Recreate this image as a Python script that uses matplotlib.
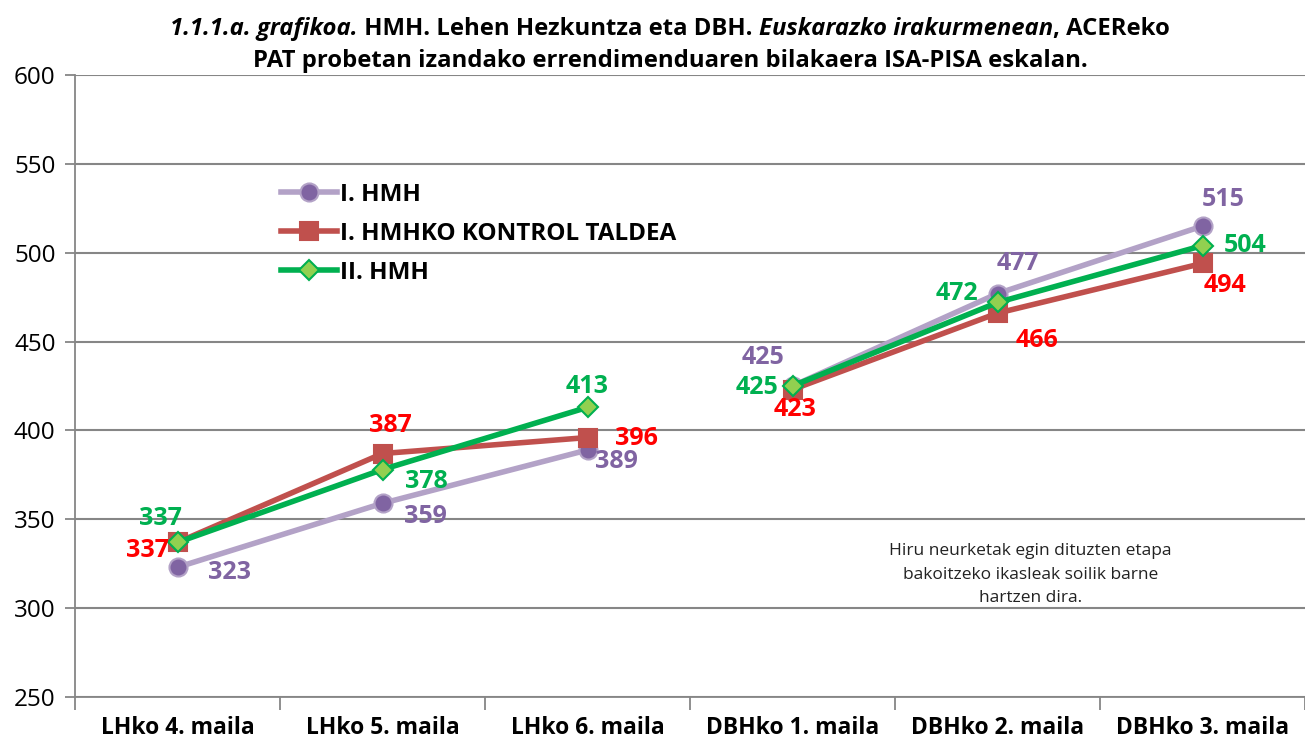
import numpy as np
import matplotlib
matplotlib.use('Agg')
import matplotlib.pyplot as plt

plt.rcParams['font.family'] = ['Open Sans', 'DejaVu Sans']

# data
categories = ['LHko 4. maila', 'LHko 5. maila', 'LHko 6. maila',
              'DBHko 1. maila', 'DBHko 2. maila', 'DBHko 3. maila']
hmh1 = [323, 359, 389, 425, 477, 515]
kontrol = [337, 387, 396, 423, 466, 494]
hmh2 = [337, 378, 413, 425, 472, 504]
series_names = ['I. HMH', 'I. HMHKO KONTROL TALDEA', 'II. HMH']
yticks = [250, 300, 350, 400, 450, 500, 550, 600]
note = 'Hiru neurketak egin dituzten etapa\nbakoitzeko ikasleak soilik barne\nhartzen dira.'

# label offsets in pixels (dx, dy) for each point
off_hmh1 = [(52, -5), (43, -13), (29, -12), (-29, 28), (20, 30), (21, 27)]
off_kontrol = [(-30, -8), (8, 28), (49, -1), (3, -20), (39, -27), (22, -22)]
off_hmh2 = [(-17, 24), (44, -12), (0, 21), (-36, -1), (-41, 9), (43, 0)]

fig = plt.figure(figsize=(13.05, 7.43), dpi=100)
ax = fig.add_axes([75 / 1305, 1 - 697 / 743, 1 - 75 / 1305, 622 / 743])

x = np.arange(len(categories))
styles = [
    dict(data=hmh1, offs=off_hmh1, color='#B3A2C7', marker='o', ms=13, mfc='#8064A2', mec='#B3A2C7', txt='#8064A2'),
    dict(data=kontrol, offs=off_kontrol, color='#C0504D', marker='s', ms=13.5, mfc='#C0504D', mec='#C0504D', txt='#FF0000'),
    dict(data=hmh2, offs=off_hmh2, color='#00B050', marker='D', ms=10, mfc='#92D050', mec='#00B050', txt='#00B050'),
]

for name, st in zip(series_names, styles):
    y = np.array(st['data'], dtype=float)
    # gap between LH and DBH
    for sl in (slice(0, 3), slice(3, 6)):
        ax.plot(x[sl], y[sl], color=st['color'], lw=4, marker=st['marker'], ms=st['ms'],
                mfc=st['mfc'], mec=st['mec'], mew=1.5, zorder=3,
                label=name if sl.start == 0 else None)
    for xi, yi, (dx, dy) in zip(x, y, st['offs']):
        ax.annotate(str(int(yi)), (xi, yi), xytext=(dx, dy), textcoords='offset pixels',
                    ha='center', va='center', color=st['txt'], fontsize=18, fontweight='bold', zorder=4)

ax.set_xlim(-0.5, 5.455)
ax.set_ylim(250, 600)
ax.set_yticks(yticks)
ax.tick_params(axis='y', labelsize=17.5, length=7, color='#868686', width=1.3, pad=7)
ax.yaxis.grid(True, color='#868686', lw=1.5)
ax.set_axisbelow(True)

ax.set_xticks(x)
ax.set_xticklabels(categories, fontsize=16.5, fontweight='bold')
ax.tick_params(axis='x', length=0, pad=14)
ax.set_xticks(np.arange(-0.5, 6, 1), minor=True)
ax.tick_params(axis='x', which='minor', length=9, color='#868686', width=1.3)

for s in ['top', 'right']:
    ax.spines[s].set_visible(False)
for s in ['left', 'bottom']:
    ax.spines[s].set_color('#868686')
    ax.spines[s].set_linewidth(1.3)

leg = ax.legend(loc='upper left', bbox_to_anchor=(0.15, 0.862), frameon=False,
                prop=dict(size=17.5, weight='bold'), handlelength=2.3, labelspacing=0.62,
                handletextpad=0.1)

ax.text(0.777, 0.248, note, transform=ax.transAxes, ha='center', va='top',
        fontsize=12.5, color='#222222', linespacing=1.65)

# title with mixed italic parts, centred by measuring pieces
line1 = [('1.1.1.a. grafikoa.', 'italic'), (' HMH. Lehen Hezkuntza eta DBH. ', 'normal'),
         ('Euskarazko irakurmenean', 'italic'), (', ACEReko', 'normal')]
line2 = [('PAT probetan izandako errendimenduaren bilakaera ISA-PISA eskalan.', 'normal')]
renderer = fig.canvas.get_renderer()
for parts, ypix in ((line1, 29), (line2, 61)):
    arts = [fig.text(0, 1 - ypix / 743, t, style=s, fontweight='bold', fontsize=17.2,
                     va='center', ha='left') for t, s in parts]
    widths = [a.get_window_extent(renderer).width for a in arts]
    xpos = 670 - sum(widths) / 2
    for a, w in zip(arts, widths):
        a.set_x(xpos / 1305)
        xpos += w

fig.savefig('out.png', dpi=100)
